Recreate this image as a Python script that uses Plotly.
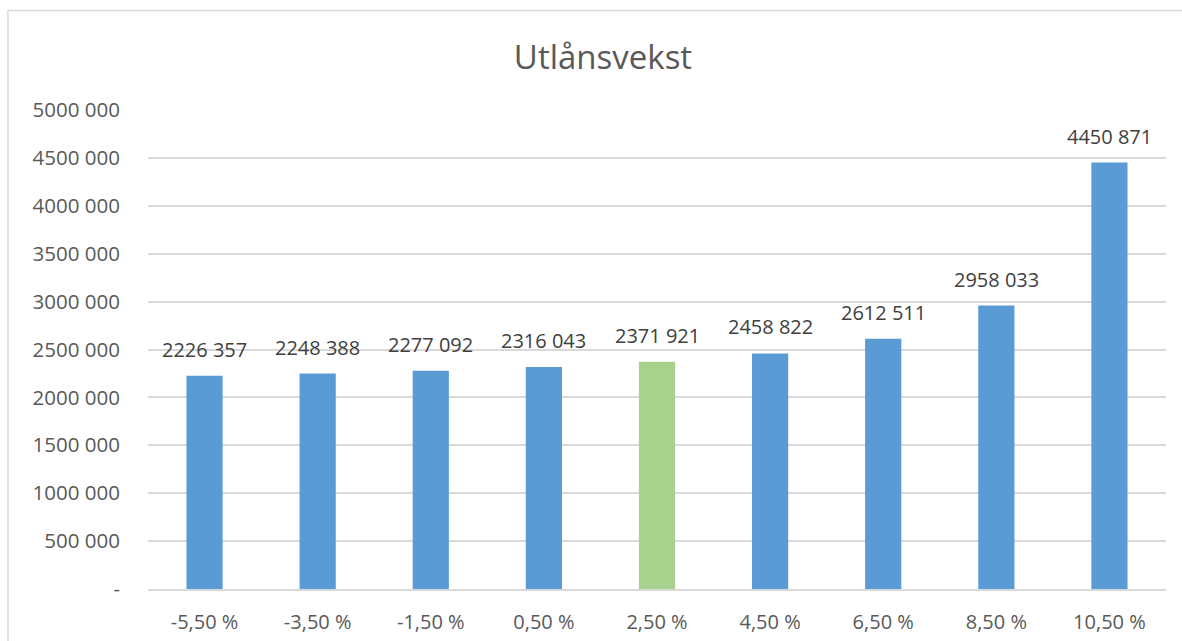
import plotly.graph_objects as go

categories = ["-5,50 %", "-3,50 %", "-1,50 %", "0,50 %", "2,50 %", "4,50 %", "6,50 %", "8,50 %", "10,50 %"]
values = [2226357, 2248388, 2277092, 2316043, 2371921, 2458822, 2612511, 2958033, 4450871]
highlight = "2,50 %"
tick_vals = [0, 500000, 1000000, 1500000, 2000000, 2500000, 3000000, 3500000, 4000000, 4500000, 5000000]
tick_text = ["-", "500 000", "1000 000", "1500 000", "2000 000", "2500 000", "3000 000",
             "3500 000", "4000 000", "4500 000", "5000 000"]


def fmt(v):
    return f"{v // 1000} {v % 1000:03d}"


colors = ["#A9D18E" if c == highlight else "#5B9BD5" for c in categories]
FONT = "Open Sans"

fig = go.Figure()
fig.add_trace(go.Bar(x=categories, y=values, marker=dict(color=colors, line=dict(width=0)),
                     hoverinfo="x+y"))

for c, v in zip(categories, values):
    fig.add_annotation(x=c, y=v, text=fmt(v), showarrow=False, yanchor="bottom", yshift=11,
                       font=dict(family=FONT, size=20, color="#404040"))

W, H = 1182, 641
L, R, T, B = 148, 16, 110, 52
pw, ph = W - L - R, H - T - B
bx = (8 - L) / pw
by = (H - B - 10.5) / ph
fig.add_shape(type="line", xref="paper", yref="paper", x0=bx, x1=(W + 5 - L) / pw, y0=by, y1=by,
              line=dict(color="#D9D9D9", width=1.5))
fig.add_shape(type="line", xref="paper", yref="paper", x0=bx, x1=bx, y0=by, y1=-(B + 5) / ph,
              line=dict(color="#D9D9D9", width=1.5))

fig.update_layout(
    width=W, height=H,
    margin=dict(l=L, r=R, t=T, b=B, autoexpand=False),
    paper_bgcolor="white", plot_bgcolor="white",
    bargap=0.68,
    showlegend=False,
    title=dict(text="Utlånsvekst", x=603 / W,
               xanchor="center", y=1 - 57 / H, yanchor="middle",
               font=dict(family=FONT, size=33, color="#595959")),
    font=dict(family=FONT, color="#595959"),
)
fig.update_xaxes(showgrid=False, showline=True, linecolor="#D9D9D9", linewidth=1.5,
                 ticks="", tickfont=dict(family=FONT, size=20, color="#595959"),
                 ticklabelstandoff=14, automargin=False)
fig.update_yaxes(range=[0, 5000000], tickvals=tick_vals, ticktext=tick_text,
                 showgrid=True, gridcolor="#D9D9D9", gridwidth=1.5, zeroline=False,
                 showline=False, ticks="", tickfont=dict(family=FONT, size=20.5, color="#595959"),
                 ticklabelstandoff=27, automargin=False)

fig.write_html("out.html", config={"displayModeBar": False},
               post_script="document.body.style.margin='0';document.body.style.overflow='hidden';")
